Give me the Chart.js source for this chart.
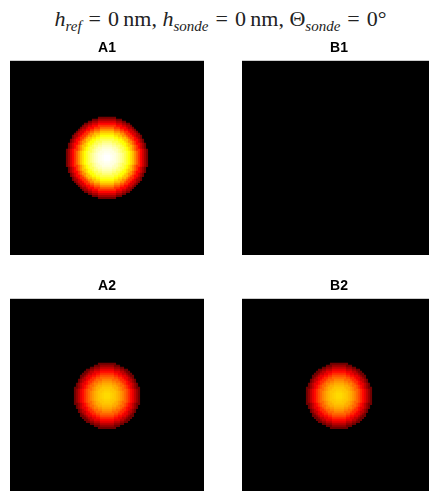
<!DOCTYPE html>
<html>
<head>
<meta charset="utf-8">
<script src="https://cdn.jsdelivr.net/npm/chart.js@4.4.0/dist/chart.umd.min.js"></script>
<style>
  html, body { margin: 0; padding: 0; background: #fff; overflow: hidden; }
  body { width: 429px; height: 491px; position: relative; }
  #title {
    position: absolute; left: 0; top: 6px; width: 441px; text-align: center;
    font-family: "Liberation Serif", "DejaVu Serif", serif; font-size: 22px; color: #222;
    white-space: nowrap;
  }
  #title sub { font-size: 15px; vertical-align: -5px; line-height: 0; }
  #title .eq { margin: 0 7px; }
  .panel { position: absolute; width: 194px; height: 215px; }
</style>
</head>
<body>
<div id="title"><i>h</i><sub><i>ref</i></sub><span class="eq">=</span>0&#8201;nm, <i>h</i><sub><i>sonde</i></sub><span class="eq">=</span>0&#8201;nm, &Theta;<sub><i>sonde</i></sub><span class="eq">=</span>0&deg;</div>
<div class="panel" style="left:10px; top:40px"><canvas id="A1"></canvas></div>
<div class="panel" style="left:242px; top:40px"><canvas id="B1"></canvas></div>
<div class="panel" style="left:10px; top:278px"><canvas id="A2"></canvas></div>
<div class="panel" style="left:242px; top:278px"><canvas id="B2"></canvas></div>
<script>
// grid of the images (cells per side, 2 px each) and spot centre in cell units
const gridSize = 97
const spotCenter = 48

// radial intensity profiles (0..1 of the colour map), one value per cell of radius
const profileA1 = [1.0, 1.0, 0.99, 0.98, 0.97, 0.95, 0.93, 0.9, 0.87, 0.83, 0.79, 0.75, 0.7, 0.65, 0.58, 0.51, 0.44, 0.37, 0.3, 0.23, 0.16]
const profileB1 = []
const profileA2 = [0.69, 0.69, 0.68, 0.67, 0.66, 0.64, 0.62, 0.59, 0.56, 0.52, 0.48, 0.43, 0.38, 0.33, 0.27, 0.21, 0.15]
const profileB2 = [0.69, 0.69, 0.68, 0.67, 0.66, 0.64, 0.62, 0.59, 0.56, 0.52, 0.48, 0.43, 0.38, 0.33, 0.27, 0.21, 0.15]

// matplotlib "hot" colour map
function hot(v) {
    var r = Math.min(1, 0.0416 + (1 - 0.0416) * v / 0.365)
    var g = Math.max(0, Math.min(1, (v - 0.365) / 0.381))
    var b = Math.max(0, Math.min(1, (v - 0.746) / 0.254))
    return `rgb(${Math.round(r * 255)},${Math.round(g * 255)},${Math.round(b * 255)})`
}

function cells(profile) {
    var pts = []
    for (var i = 0; i < gridSize; i++) {
        for (var j = 0; j < gridSize; j++) {
            var k = Math.round(Math.hypot(i - spotCenter, j - spotCenter))
            if (k < profile.length) pts.push({x: i, y: j, v: profile[k]})
        }
    }
    return pts
}

const blackArea = {
    id: 'blackArea',
    beforeDatasetsDraw(chart) {
        const a = chart.chartArea
        chart.ctx.save()
        chart.ctx.fillStyle = '#000'
        chart.ctx.fillRect(a.left, a.top, a.right - a.left, a.bottom - a.top)
        chart.ctx.restore()
    }
}

function createPanel(id, profile) {
    new Chart(document.getElementById(id), {
        type: 'scatter',
        data: {
            datasets: [{
                data: cells(profile),
                pointStyle: 'rect',
                pointRadius: 1.5,
                borderWidth: 0,
                backgroundColor: ctx => ctx.raw ? hot(ctx.raw.v) : '#000'
            }]
        },
        options: {
            responsive: false,
            animation: false,
            events: [],
            layout: { padding: 0, autoPadding: false },
            scales: {
                x: { display: false, min: -0.5, max: gridSize - 0.5 },
                y: { display: false, min: -0.5, max: gridSize - 0.5, reverse: true }
            },
            plugins: {
                legend: { display: false },
                tooltip: { enabled: false },
                title: {
                    display: true,
                    text: id,
                    color: '#000',
                    font: { family: 'Liberation Sans', size: 14, weight: 'bold' },
                    padding: { top: 0, bottom: 4 }
                }
            }
        },
        plugins: [blackArea]
    })
}

document.querySelectorAll('canvas').forEach(c => { c.width = 194; c.height = 215 })
createPanel('A1', profileA1)
createPanel('B1', profileB1)
createPanel('A2', profileA2)
createPanel('B2', profileB2)
</script>
</body>
</html>
